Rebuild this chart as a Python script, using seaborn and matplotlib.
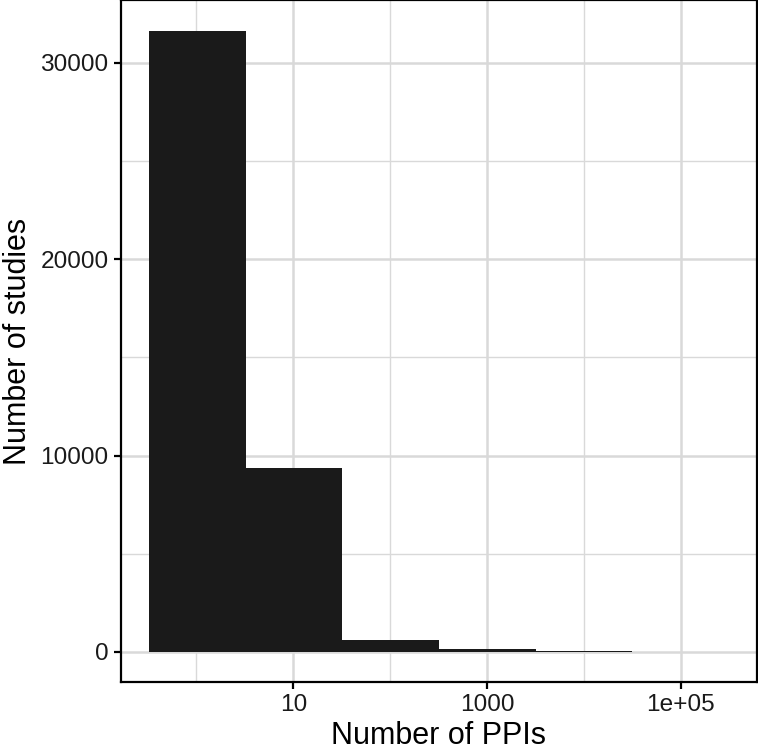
import numpy as np
import seaborn as sns
import matplotlib.pyplot as plt
from matplotlib.ticker import FixedLocator

# Histogram of log10(number of PPIs) per study
bin_centers_log10 = [0, 1, 2, 3, 4, 5]
study_counts = [31620, 9390, 620, 150, 40, 15]
x_tick_pos = [1, 3, 5]
x_tick_labels = ["10", "1000", "1e+05"]
y_ticks = [0, 10000, 20000, 30000]

sns.set_theme(style="white")
plt.rcParams['font.family'] = ['Liberation Sans', 'DejaVu Sans']

fig = plt.figure(figsize=(7.58, 7.51), dpi=100)
ax = fig.add_axes([0.1596, 0.0919, 0.8391, 0.9075])

sns.histplot(
    x=bin_centers_log10,
    weights=study_counts,
    bins=6,
    binrange=(-0.49, 5.5),
    color="#1a1a1a",
    alpha=1,
    edgecolor="none",
    linewidth=0,
    ax=ax,
)

# ggplot-like limits (5% expansion)
ax.set_xlim(-0.78, 5.79)
ax.set_ylim(-1530, 33180)

ax.xaxis.set_major_locator(FixedLocator(x_tick_pos))
ax.set_xticklabels(x_tick_labels)
ax.xaxis.set_minor_locator(FixedLocator([0, 2, 4]))
ax.yaxis.set_major_locator(FixedLocator(y_ticks))
ax.set_yticklabels([str(v) for v in y_ticks])
ax.yaxis.set_minor_locator(FixedLocator([5000, 15000, 25000]))

ax.set_axisbelow(True)
ax.grid(which="major", color="#d9d9d9", linewidth=1.8)
ax.grid(which="minor", color="#d9d9d9", linewidth=1.0)

for side in ["left", "bottom", "top", "right"]:
    ax.spines[side].set_visible(True)
    ax.spines[side].set_color("black")
    ax.spines[side].set_linewidth(1.6)

ax.tick_params(which="major", direction="out", length=5, width=1.6,
               color="black", labelsize=17.6, labelcolor="#1a1a1a", pad=4,
               bottom=True, left=True)
ax.tick_params(which="minor", length=0)

ax.set_xlabel("Number of PPIs", fontsize=22, color="black", labelpad=3)
ax.set_ylabel("Number of studies", fontsize=22, color="black", labelpad=5)

fig.savefig("out.png", dpi=100)
